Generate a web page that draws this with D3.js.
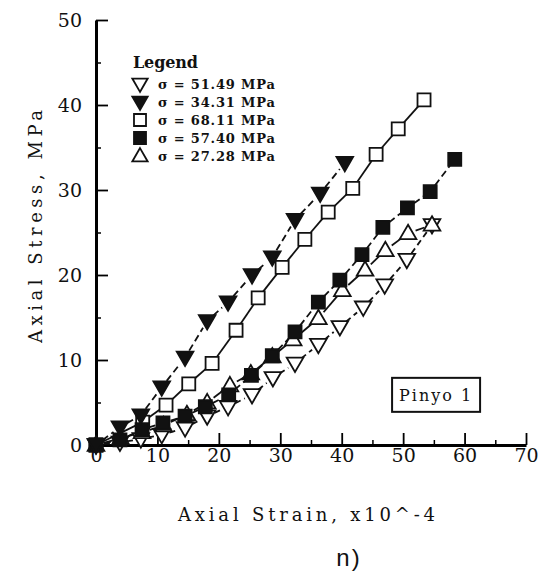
<!DOCTYPE html>
<html>
<head>
<meta charset="utf-8">
<script src="https://cdn.jsdelivr.net/npm/d3@7/dist/d3.min.js"></script>
<style>
  body { margin: 0; background: #fff; }
  svg { display: block; }
</style>
</head>
<body>
<div id="chart"></div>
<script>
// values (strain x10^-4, stress MPa)
const legendLabels = ["σ = 51.49 MPa", "σ = 34.31 MPa", "σ = 68.11 MPa", "σ = 57.40 MPa", "σ = 27.28 MPa"];

const strain51 = [0, 3.9, 7.3, 10.7, 14.5, 18.1, 21.5, 25.4, 28.8, 32.4, 36.2, 39.7, 43.5, 47.0, 50.6, 54.7];
const stress51 = [0, 0.3, 0.7, 1.2, 2.0, 3.4, 4.5, 5.9, 7.9, 9.6, 11.8, 13.9, 16.2, 18.8, 21.8, 25.9];

const strain34 = [0, 3.9, 7.3, 10.7, 14.5, 18.1, 21.5, 25.4, 28.7, 32.4, 36.5, 40.5];
const stress34 = [0, 2.1, 3.5, 6.8, 10.3, 14.6, 16.8, 20.0, 22.1, 26.5, 29.6, 33.2];

const strain68 = [0, 7.6, 11.4, 15.1, 18.9, 22.8, 26.4, 30.3, 34.0, 37.8, 41.8, 45.6, 49.2, 53.4];
const stress68 = [0, 2.7, 4.7, 7.2, 9.6, 13.5, 17.3, 20.9, 24.2, 27.4, 30.2, 34.2, 37.2, 40.6];

const strain57 = [0, 3.9, 7.5, 10.9, 14.5, 17.8, 21.6, 25.3, 28.7, 32.4, 36.2, 39.7, 43.3, 46.7, 50.7, 54.4, 58.4];
const stress57 = [0, 0.6, 1.8, 2.6, 3.4, 4.5, 5.9, 8.2, 10.5, 13.3, 16.8, 19.4, 22.4, 25.6, 27.9, 29.8, 33.6];

const strain27 = [0, 4.0, 7.5, 11.0, 14.8, 18.1, 21.8, 25.2, 28.7, 32.1, 36.2, 40.1, 43.8, 47.1, 50.8, 54.7];
const stress27 = [0, 0.8, 1.5, 2.3, 3.6, 5.0, 7.0, 8.4, 10.4, 12.4, 14.9, 18.2, 20.6, 22.9, 24.9, 25.9];

const xTicks = [0, 10, 20, 30, 40, 50, 60, 70];
const yTicks = [0, 10, 20, 30, 40, 50];

const series = [
  { label: legendLabels[0], xs: strain51, ys: stress51, shape: "triDown", filled: false, dash: "6,4" },
  { label: legendLabels[4], xs: strain27, ys: stress27, shape: "triUp", filled: false, dash: null },
  { label: legendLabels[2], xs: strain68, ys: stress68, shape: "square", filled: false, dash: null },
  { label: legendLabels[3], xs: strain57, ys: stress57, shape: "square", filled: true, dash: "7,4" },
  { label: legendLabels[1], xs: strain34, ys: stress34, shape: "triDown", filled: true, dash: "7,4" }
];
const legendOrder = [0, 4, 2, 3, 1];

const width = 538, height = 575;
const serif = "'DejaVu Serif', 'Liberation Serif', serif";

const x = d3.scaleLinear().domain([0, 70]).range([96, 526]);
const y = d3.scaleLinear().domain([0, 50]).range([445, 20]);

const svg = d3.select("#chart").append("svg")
  .attr("width", width)
  .attr("height", height);

function symbolPath(shape, scale) {
  const s = scale || 1;
  if (shape === "square") return d3.symbol().type(d3.symbolSquare).size(170 * s)();
  return d3.symbol().type(d3.symbolTriangle).size(120 * s)();
}
function symbolTransform(shape, px, py) {
  if (shape === "triDown") return `translate(${px},${py - 1}) rotate(180)`;
  if (shape === "triUp") return `translate(${px},${py + 1})`;
  return `translate(${px},${py})`;
}

// axes
const minorX = d3.range(5, 70, 10);
const minorY = d3.range(5, 50, 10);

svg.append("g")
  .attr("transform", "translate(0,445)")
  .call(d3.axisBottom(x).tickValues(minorX).tickSize(-5).tickFormat(""))
  .call(g => g.select(".domain").remove())
  .call(g => g.selectAll("line").attr("stroke-width", 1.5));

svg.append("g")
  .attr("transform", "translate(96,0)")
  .call(d3.axisLeft(y).tickValues(minorY).tickSize(-5).tickFormat(""))
  .call(g => g.select(".domain").remove())
  .call(g => g.selectAll("line").attr("stroke-width", 1.5));

const gx = svg.append("g")
  .attr("transform", "translate(0,445)")
  .call(d3.axisBottom(x).tickValues(xTicks).tickSize(-12).tickSizeOuter(0).tickPadding(3));
gx.select(".domain").attr("stroke-width", 3);
gx.selectAll("line").attr("stroke-width", 1.8);
gx.selectAll("text")
  .attr("font-family", serif)
  .attr("font-size", 19)
  .attr("fill", "#111");

const gy = svg.append("g")
  .attr("transform", "translate(96,0)")
  .call(d3.axisLeft(y).tickValues(yTicks).tickSize(-12).tickSizeOuter(0).tickPadding(14));
gy.select(".domain").attr("stroke-width", 3);
gy.selectAll("line").attr("stroke-width", 1.8);
gy.selectAll("text")
  .attr("font-family", serif)
  .attr("font-size", 19)
  .attr("fill", "#111");

svg.append("text")
  .attr("x", 178)
  .attr("y", 521)
  .attr("font-family", serif)
  .attr("font-size", 18)
  .attr("textLength", 257)
  .attr("lengthAdjust", "spacing")
  .attr("fill", "#111")
  .text("Axial Strain, x10^-4");

svg.append("text")
  .attr("transform", "translate(42,343) rotate(-90)")
  .attr("font-family", serif)
  .attr("font-size", 18)
  .attr("textLength", 233)
  .attr("lengthAdjust", "spacing")
  .attr("fill", "#111")
  .text("Axial Stress, MPa");

svg.append("text")
  .attr("x", 349)
  .attr("y", 566)
  .attr("text-anchor", "middle")
  .attr("font-family", "'Liberation Sans', Arial, sans-serif")
  .attr("font-size", 24)
  .attr("letter-spacing", 2)
  .attr("fill", "#111")
  .text("n)");

// connecting lines, trimmed so they stop short of the markers
const gap = 8;
series.forEach(s => {
  const pts = s.xs.map((v, i) => [x(v), y(s.ys[i])]);
  const segs = [];
  for (let i = 1; i < pts.length; i++) {
    const [x0, y0] = pts[i - 1], [x1, y1] = pts[i];
    const len = Math.hypot(x1 - x0, y1 - y0);
    if (len <= 2 * gap) continue;
    const ux = (x1 - x0) / len, uy = (y1 - y0) / len;
    segs.push([x0 + ux * gap, y0 + uy * gap, x1 - ux * gap, y1 - uy * gap]);
  }
  svg.append("g").selectAll("line")
    .data(segs)
    .enter()
    .append("line")
      .attr("x1", d => d[0]).attr("y1", d => d[1])
      .attr("x2", d => d[2]).attr("y2", d => d[3])
      .attr("stroke", "#111")
      .attr("stroke-width", 1.8)
      .attr("stroke-dasharray", s.dash);
});

// markers
series.forEach(s => {
  svg.append("g").selectAll("path")
    .data(s.xs.map((v, i) => ({ sx: v, sy: s.ys[i] })))
    .enter()
    .append("path")
      .attr("d", symbolPath(s.shape))
      .attr("transform", d => symbolTransform(s.shape, x(d.sx), y(d.sy)))
      .attr("fill", s.filled ? "#111" : "#fff")
      .attr("stroke", "#111")
      .attr("stroke-width", 1.8);
});

// legend
const legend = svg.append("g");
legend.append("text")
  .attr("x", 133)
  .attr("y", 68)
  .attr("font-family", serif)
  .attr("font-size", 16)
  .attr("font-weight", "bold")
  .attr("textLength", 65)
  .attr("lengthAdjust", "spacing")
  .attr("fill", "#111")
  .text("Legend");

const rowY = d3.scaleLinear().domain([0, 4]).range([84, 156]);
legendOrder.forEach((si, r) => {
  const s = series[si];
  legend.append("path")
    .attr("d", symbolPath(s.shape, 0.85))
    .attr("transform", symbolTransform(s.shape, 140, rowY(r)))
    .attr("fill", s.filled ? "#111" : "#fff")
    .attr("stroke", "#111")
    .attr("stroke-width", 1.8);
  legend.append("text")
    .attr("x", 158)
    .attr("y", rowY(r) + 5)
    .attr("font-family", serif)
    .attr("font-size", 13)
    .attr("font-weight", "bold")
    .attr("textLength", 117)
    .attr("lengthAdjust", "spacing")
    .attr("fill", "#111")
    .text(s.label);
});

// sample label box
svg.append("rect")
  .attr("x", x(48.2))
  .attr("y", y(7.9))
  .attr("width", 88)
  .attr("height", 34)
  .attr("fill", "#fff")
  .attr("stroke", "#111")
  .attr("stroke-width", 2);

svg.append("text")
  .attr("x", x(48.2) + 7)
  .attr("y", y(7.9) + 23)
  .attr("font-family", serif)
  .attr("font-size", 16)
  .attr("textLength", 72)
  .attr("lengthAdjust", "spacing")
  .attr("fill", "#111")
  .text("Pinyo 1");
</script>
</body>
</html>
